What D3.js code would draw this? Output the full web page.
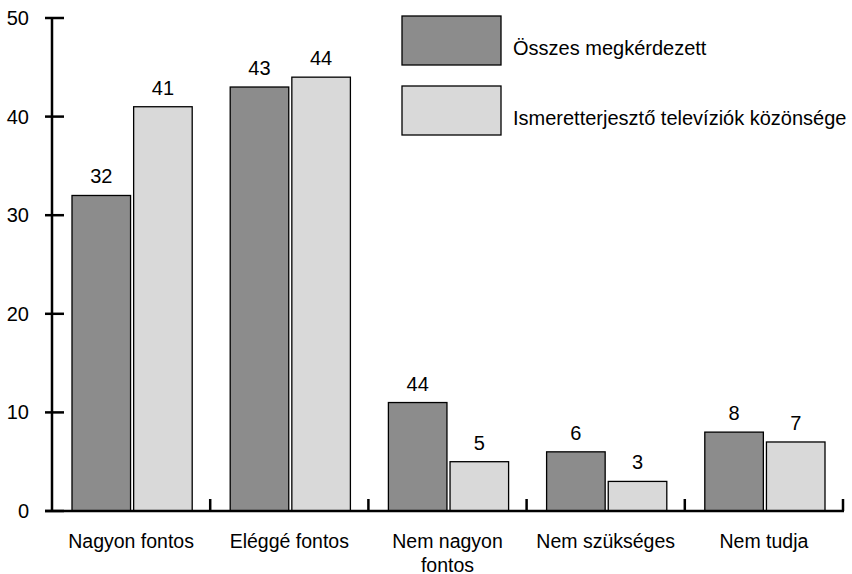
<!DOCTYPE html>
<html><head><meta charset="utf-8">
<script src="https://cdn.jsdelivr.net/npm/d3@7"></script>
<style>body{margin:0;background:#fff}svg{display:block;font-family:"Liberation Sans",Arial,sans-serif}</style>
</head><body><svg id="c" width="852" height="574"></svg>
<script>
const categories = [["Nagyon fontos"], ["Eléggé fontos"], ["Nem nagyon", "fontos"], ["Nem szükséges"], ["Nem tudja"]];
const seriesNames = ["Összes megkérdezett", "Ismeretterjesztő televíziók közönsége"];
const valuesAll = [32, 43, 11, 6, 8];
const valuesTV = [41, 44, 5, 3, 7];
const labelsAll = ["32", "43", "44", "6", "8"];
const labelsTV = ["41", "44", "5", "3", "7"];
const yTicks = [0, 10, 20, 30, 40, 50];
const colors = ["#8c8c8c", "#d9d9d9"];

const svg = d3.select("#c");
const x0 = 52, x1 = 843, yTop = 18, yBot = 511;
const y = d3.scaleLinear().domain([0, 50]).range([yBot, yTop]);
const idx = categories.map((d, i) => i);
const xb = d3.scaleBand().domain(idx).range([x0, x1]).paddingInner(0).paddingOuter(0);
const xs = d3.scaleBand().domain([0, 1]).range([20, xb.bandwidth() - 18]).paddingInner(0.05);

const series = [valuesAll, valuesTV];
const labels = [labelsAll, labelsTV];

// bars
series.forEach((vals, s) => {
  svg.append("g").selectAll("rect").data(vals).join("rect")
    .attr("x", (d, i) => xb(i) + xs(s))
    .attr("y", d => y(d))
    .attr("width", xs.bandwidth())
    .attr("height", d => y(0) - y(d))
    .attr("fill", colors[s]).attr("stroke", "#000").attr("stroke-width", 1.3);
  svg.append("g").selectAll("text").data(vals).join("text")
    .attr("x", (d, i) => xb(i) + xs(s) + xs.bandwidth() / 2)
    .attr("y", d => y(d) - 12)
    .attr("text-anchor", "middle").attr("font-size", 20).attr("fill", "#000")
    .text((d, i) => labels[s][i]);
});

// y axis
const ya = svg.append("g");
ya.append("line").attr("x1", x0).attr("x2", x0).attr("y1", yTop).attr("y2", yBot).attr("stroke", "#000").attr("stroke-width", 2.5);
ya.selectAll("line.t").data(yTicks).join("line").attr("class", "t")
  .attr("x1", 45).attr("x2", 64).attr("y1", d => y(d)).attr("y2", d => y(d))
  .attr("stroke", "#000").attr("stroke-width", 2.5);
ya.selectAll("text").data(yTicks).join("text")
  .attr("x", 29).attr("y", d => y(d)).attr("dy", "0.35em")
  .attr("text-anchor", "end").attr("font-size", 20).text(d => d);

// x axis
const xa = svg.append("g");
xa.append("line").attr("x1", 45).attr("x2", x1 + 1).attr("y1", yBot).attr("y2", yBot).attr("stroke", "#000").attr("stroke-width", 2.5);
xa.selectAll("line.t").data(idx).join("line").attr("class", "t")
  .attr("x1", d => xb(d) + xb.bandwidth()).attr("x2", d => xb(d) + xb.bandwidth())
  .attr("y1", yBot).attr("y2", yBot - 12).attr("stroke", "#000").attr("stroke-width", 2.5);
xa.selectAll("text").data(categories).join("text")
  .attr("x", (d, i) => xb(i) + xb.bandwidth() / 2)
  .attr("y", 548).attr("text-anchor", "middle").attr("font-size", 19.5)
  .each(function(d) {
    d3.select(this).selectAll("tspan").data(d).join("tspan")
      .attr("x", d3.select(this).attr("x")).attr("dy", (t, j) => j ? 23.5 : 0).text(t => t);
  });

// legend
const lg = svg.append("g");
const legY = [16, 86];
seriesNames.forEach((n, s) => {
  lg.append("rect").attr("x", 402).attr("y", legY[s]).attr("width", 99).attr("height", 49)
    .attr("fill", colors[s]).attr("stroke", "#000").attr("stroke-width", 1.3);
  lg.append("text").attr("x", 513).attr("y", legY[s] + 39)
    .attr("font-size", 20).text(n);
});
</script></body></html>
